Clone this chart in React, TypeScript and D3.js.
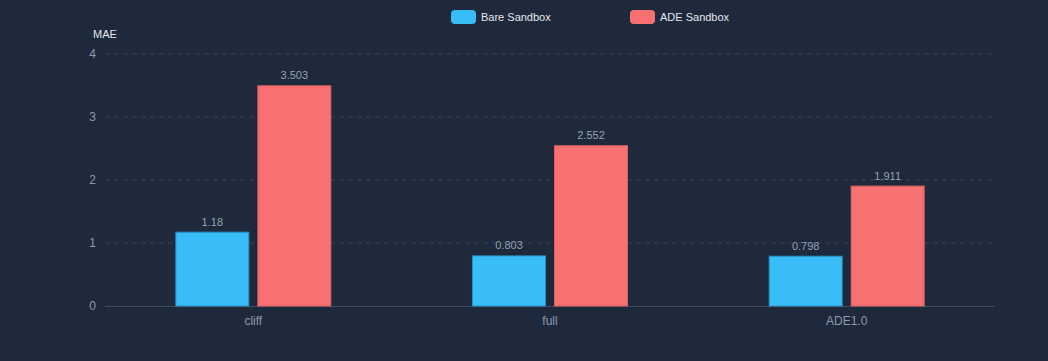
import React from "react";
import * as d3 from "d3";

const categories = ["cliff", "full", "ADE1.0"];
const bareValues = [1.18, 0.803, 0.798];
const adeValues = [3.503, 2.552, 1.911];
const yTicks = [0, 1, 2, 3, 4];
const seriesNames = ["Bare Sandbox", "ADE Sandbox"];
const seriesColors = ["#38bdf8", "#f87171"];
const seriesStroke = ["#2a8fc0", "#d86262"];

const W = 1048;
const H = 361;
const M = { left: 105, right: 53, top: 54, bottom: 55 };

export default function App() {
  const x = d3.scaleBand<string>().domain(categories).range([M.left, W - M.right]);
  const y = d3.scaleLinear().domain([0, 4]).range([H - M.bottom, M.top]);
  const barW = 74;
  const gap = 8;
  const font = "Helvetica, Arial, 'Liberation Sans', sans-serif";
  const series = [bareValues, adeValues];

  return (
    <div style={{ position: "fixed", left: 0, top: 0, width: W, height: H, background: "#1e293b" }}>
      <svg width={W} height={H} style={{ display: "block" }} fontFamily={font}>
        <rect width={W} height={H} fill="#1e293b" />
        {yTicks.map((t) => (
          <g key={t}>
            {t !== 0 && (
              <line
                x1={M.left}
                x2={W - M.right}
                y1={y(t)}
                y2={y(t)}
                stroke="#374457"
                strokeDasharray="5 4"
              />
            )}
            <text x={M.left - 9} y={y(t)} dy="0.35em" textAnchor="end" fontSize={12} fill="#8b9ab0">
              {t}
            </text>
          </g>
        ))}
        <line x1={M.left} x2={W - M.right} y1={y(0) + 0.5} y2={y(0) + 0.5} stroke="#3c4a5e" />
        <text x={M.left} y={38} textAnchor="middle" fontSize={11} fill="#e5e7eb">MAE</text>
        {categories.map((c, i) => {
          const cx = (x(c) as number) + x.bandwidth() / 2;
          return (
            <g key={c}>
              {series.map((vals, s) => {
                const bx = s === 0 ? cx - gap / 2 - barW : cx + gap / 2;
                const v = vals[i];
                return (
                  <g key={s}>
                    <rect
                      x={bx + 0.5}
                      y={y(v) + 0.5}
                      width={barW - 1}
                      height={y(0) - y(v) - 0.5}
                      fill={seriesColors[s]}
                      stroke={seriesStroke[s]}
                      strokeWidth={1}
                    />
                    <text
                      x={bx + barW / 2}
                      y={y(v) - 6}
                      textAnchor="middle"
                      fontSize={11}
                      fill="#94a3b8"
                    >
                      {String(v)}
                    </text>
                  </g>
                );
              })}
              <text x={cx} y={y(0) + 19} textAnchor="middle" fontSize={12} fill="#8b9ab0">
                {c}
              </text>
            </g>
          );
        })}
        {seriesNames.map((n, s) => {
          const lx = s === 0 ? 451 : 630;
          return (
            <g key={n}>
              <rect x={lx} y={10} width={25} height={14} rx={4} fill={seriesColors[s]} />
              <text x={lx + 30} y={17} dy="0.35em" fontSize={11} fill="#e5e7eb">
                {n}
              </text>
            </g>
          );
        })}
      </svg>
    </div>
  );
}
